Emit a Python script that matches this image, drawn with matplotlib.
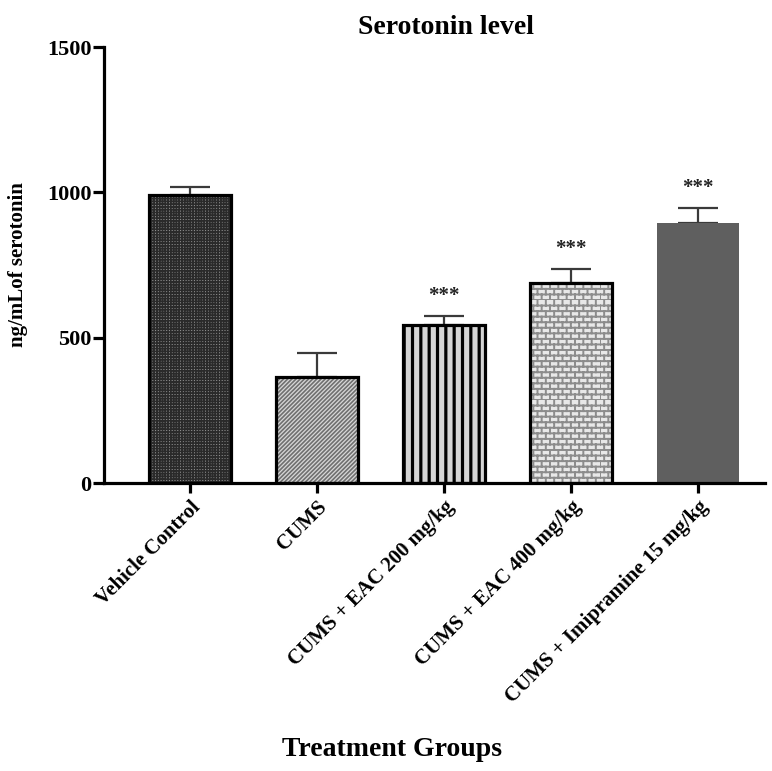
import warnings
import matplotlib
matplotlib.use("Agg")
import matplotlib.pyplot as plt
import matplotlib.hatch as mhatch
from matplotlib.path import Path

warnings.filterwarnings("ignore")

groups = ["Vehicle Control", "CUMS", "CUMS + EAC 200 mg/kg",
          "CUMS + EAC 400 mg/kg", "CUMS + Imipramine 15 mg/kg"]
serotonin = [990, 365, 543, 688, 894]
sem = [28, 82, 32, 48, 52]
signif = ["", "", "***", "***", "***"]


# brick wall hatch, used with the 'b' character
class BrickHatch(mhatch.HatchPatternBase):
    def __init__(self, hatch, density):
        self.rows = hatch.count('b') * density
        self.cols = self.rows * 2 // 3
        self.num_vertices = (self.rows + self.rows * self.cols) * 2

    def set_vertices_and_codes(self, vertices, codes):
        h = 1.0 / self.rows
        w = 1.0 / self.cols if self.cols else 1.0
        k = 0
        for i in range(self.rows):
            y0 = i * h
            vertices[k] = (0, y0)
            vertices[k + 1] = (1, y0)
            codes[k] = Path.MOVETO
            codes[k + 1] = Path.LINETO
            k += 2
            shift = w / 2 if i % 2 else 0
            for j in range(self.cols):
                x = j * w + shift
                vertices[k] = (x, y0)
                vertices[k + 1] = (x, y0 + h)
                codes[k] = Path.MOVETO
                codes[k + 1] = Path.LINETO
                k += 2


mhatch._hatch_types.append(BrickHatch)

plt.rcParams['font.family'] = ['Liberation Serif', 'DejaVu Serif']
plt.rcParams['font.weight'] = 'bold'

# fill, hatch, hatch colour, hatch width, outline
styles = [
    ('#8e8e8e', '++++++', '#2a2a2a', 1.2, 'black'),
    ('#d8d8d8', '////////', '#707070', 1.2, 'black'),
    ('#d4d4d4', '||', 'black', 2.3, 'black'),
    ('#e8e8e8', 'bbb', '#8c8c8c', 1.4, 'black'),
    ('#5f5f5f', None, '#5f5f5f', 1.0, None),
]

fig = plt.figure(figsize=(7.72, 7.71), dpi=100)
ax = fig.add_axes([0.1347, 0.3735, 0.8562, 0.5655])

x = list(range(len(groups)))
for i in x:
    face, hatch, hcol, hlw, edge = styles[i]
    b = ax.bar(i, serotonin[i], width=0.65, color=face, hatch=hatch,
               edgecolor=hcol, linewidth=0, zorder=2)
    for p in b:
        if hasattr(p, 'set_hatch_linewidth'):
            p.set_hatch_linewidth(hlw)
    if edge:
        ax.bar(i, serotonin[i], width=0.65, fill=False, edgecolor=edge,
               linewidth=2.3, zorder=3)

ax.errorbar(x, serotonin, yerr=[[0] * len(sem), sem], fmt='none',
            ecolor='#3a3a3a', elinewidth=1.6, capsize=14.5, capthick=1.6,
            zorder=1)

for i, s in enumerate(signif):
    if s:
        ax.annotate(s, (i, serotonin[i] + sem[i]), xytext=(0, 7),
                    textcoords='offset points', ha='center', va='bottom',
                    fontsize=15, fontweight='bold', color='#222222')

ax.set_xlim(-0.677, 4.528)
ax.set_ylim(0, 1500)
ax.set_yticks([0, 500, 1000, 1500])
ax.set_xticks(x)
ax.set_xticklabels(groups, rotation=45, ha='right', rotation_mode='anchor',
                   fontsize=15, fontweight='bold')
for t in ax.get_yticklabels():
    t.set_fontsize(16)
    t.set_fontweight('bold')

for side in ['top', 'right']:
    ax.spines[side].set_visible(False)
for side in ['left', 'bottom']:
    ax.spines[side].set_linewidth(2.3)
ax.tick_params(axis='y', length=8, width=2.3, pad=1)
ax.tick_params(axis='x', length=7, width=2.3, pad=3)

fig.text(446 / 772, 1 - 27 / 771, "Serotonin level", ha='center', va='center',
         fontsize=20, fontweight='bold')
fig.text(18 / 772, 1 - 265 / 771, "ng/mLof serotonin", ha='center',
         va='center', rotation=90, fontsize=15, fontweight='bold')
fig.text(392 / 772, 1 - 750 / 771, "Treatment Groups", ha='center',
         va='center', fontsize=20, fontweight='bold')

fig.savefig("out.png", dpi=100)
